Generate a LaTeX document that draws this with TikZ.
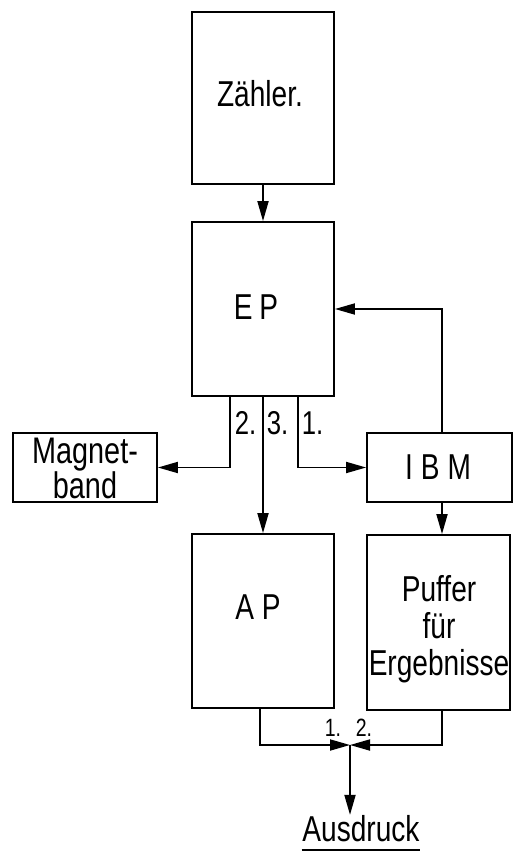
\documentclass[tikz,border=0pt]{standalone}
\usepackage{fontspec}
\setmainfont[FakeStretch=0.78]{Liberation Sans}
\usetikzlibrary{arrows.meta}
\begin{document}
\begin{tikzpicture}[x=1pt,y=-1pt,
  line width=1.8pt,
  box/.style={draw,rectangle,inner sep=0pt,line width=1.8pt},
  big/.style={font=\fontsize{36}{37}\selectfont},
  lbl/.style={font=\fontsize{33}{33}\selectfont,inner sep=0pt,anchor=west},
  slbl/.style={font=\fontsize{25}{25}\selectfont,inner sep=0pt},
  arr/.style={-{Triangle[length=20pt,width=11pt]}}]
\useasboundingbox (0,0) rectangle (513,853);
% boxes
\node[box,minimum width=142pt,minimum height=172pt] (z) at (263,98) {};
\node[big] (zt) at (260,94) {Zähler.};
\node[box,minimum width=142pt,minimum height=174pt] (ep) at (263,309) {};
\node[big] (ept) at (256,307) {E\hspace{7pt}P};
\node[box,minimum width=144pt,minimum height=69pt] (mb) at (85,467.5) {};
\node[big,align=center,font=\fontsize{37}{35}\selectfont] (mbt) at (85,468) {Magnet-\\band};
\node[box,minimum width=145pt,minimum height=69pt] (ibm) at (439.5,467.5) {};
\node[big] (ibmt) at (438,467) {I\hspace{8pt}B\hspace{8pt}M};
\node[box,minimum width=142pt,minimum height=174pt] (ap) at (263,621) {};
\node[big] (apt) at (258,607) {A\hspace{8pt}P};
\node[box,minimum width=143pt,minimum height=175pt] (pf) at (438.5,622.5) {};
\node[big,align=center] (pft) at (439,629) {Puffer\\für\\Ergebnisse};
% connectors
\draw[arr] (z.south) -- (ep.north);
\draw[arr] ([xshift=2.5pt]ibm.north) |- (ep.east);
\coordinate (e2) at (230,396);
\coordinate (e3) at (263,396);
\coordinate (e1) at (298,396);
\draw[arr] (e2) |- (mb.east);
\draw[arr] (e3) -- (ap.north);
\draw[arr] (e1) |- (ibm.west);
\draw[arr] ([xshift=2.5pt]ibm.south) -- ([xshift=3.5pt]pf.north);
\node[lbl] (l2) at (234,423) {2.};
\node[lbl] (l3) at (266,423) {3.};
\node[lbl] (l1) at (301,423) {1.};
% bottom
\coordinate (j) at (350,745);
\draw[arr] ([xshift=-3pt]ap.south) |- (j);
\draw[arr] ([xshift=3.5pt]pf.south) |- (j);
\node[slbl] (b1) at (333,728) {1.};
\node[slbl] (b2) at (364,728) {2.};
\node[big,inner sep=0pt] (aus) at (361,829) {Ausdruck};
\draw[arr] (j) -- (j |- aus.north);
\draw[line width=1.6pt] ([yshift=-7pt]aus.south west) -- ([yshift=-7pt]aus.south east);
\end{tikzpicture}
\end{document}
